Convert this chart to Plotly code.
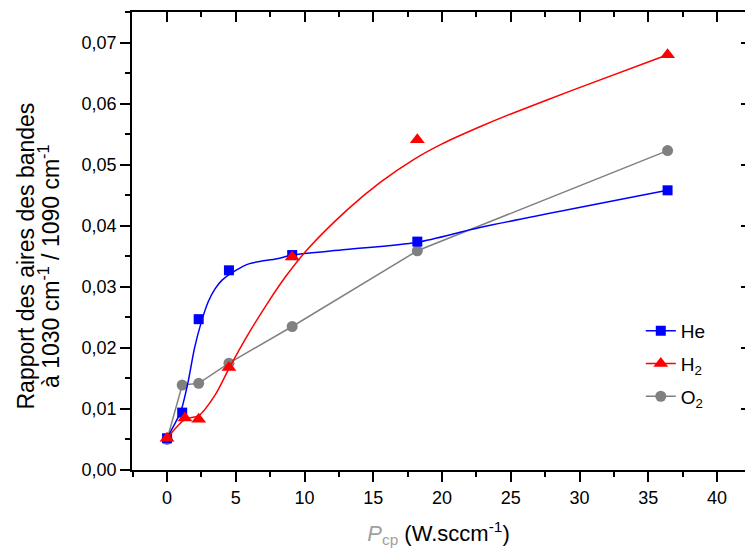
import plotly.graph_objects as go

# ---- data ----
x_he = [0, 1.1, 2.3, 4.5, 9.1, 18.2, 36.4]
y_he = [0.0052, 0.0094, 0.0247, 0.0327, 0.0352, 0.0374, 0.0458]

x_h2 = [0, 1.3, 2.3, 4.5, 9.1, 18.2, 36.4]
y_h2 = [0.0052, 0.0085, 0.0083, 0.0168, 0.0349, 0.0541, 0.0680]

x_o2 = [0, 1.1, 2.3, 4.5, 9.1, 18.2, 36.4]
y_o2 = [0.0050, 0.0139, 0.0142, 0.0175, 0.0235, 0.0359, 0.0523]

# fitted curves as drawn in the reference
fit_he_x = [0, 0.5, 1.0, 1.5, 2.0, 2.5, 3.0, 3.5, 4.0, 5.0, 6.0, 8.0, 9.1, 13.0, 18.2, 22.75, 36.4]
fit_he_y = [0.0052, 0.0073, 0.0096, 0.0141, 0.0200, 0.0243, 0.0276, 0.0297, 0.0311, 0.0327, 0.0338,
            0.0346, 0.0352, 0.0361, 0.0373, 0.0397, 0.0458]

fit_h2_x = [0, 1.3, 2.3, 3.5, 4.5, 6.0, 7.3, 8.6, 10.2, 13.1, 15.5, 17.9, 20.0, 22.75, 25.0, 29.5, 36.4]
fit_h2_y = [0.0052, 0.0083, 0.0089, 0.0123, 0.0166, 0.0226, 0.0273, 0.0316, 0.0361, 0.0426, 0.0471,
            0.0508, 0.0534, 0.0562, 0.0583, 0.0622, 0.0680]

names = ["He", "H<sub>2</sub>", "O<sub>2</sub>"]
colors = ["#0000FF", "#FF0000", "#808080"]
symbols = ["square", "triangle-up", "circle"]
msizes = [10, 13, 11]

x_ticks = [0, 5, 10, 15, 20, 25, 30, 35, 40]
y_ticks = [0.00, 0.01, 0.02, 0.03, 0.04, 0.05, 0.06, 0.07]

FONT = "Liberation Sans, Arial, sans-serif"

fig = go.Figure()

# O2 (straight segments through points), drawn first
fig.add_trace(go.Scatter(x=x_o2, y=y_o2, mode="lines+markers",
                         line=dict(color=colors[2], width=1.5),
                         marker=dict(symbol=symbols[2], size=msizes[2], color=colors[2]),
                         showlegend=False, hoverinfo="skip"))
# He fit + points
fig.add_trace(go.Scatter(x=fit_he_x, y=fit_he_y, mode="lines",
                         line=dict(color=colors[0], width=1.5, shape="spline", smoothing=0.8),
                         showlegend=False, hoverinfo="skip"))
fig.add_trace(go.Scatter(x=x_he, y=y_he, mode="markers",
                         marker=dict(symbol=symbols[0], size=msizes[0], color=colors[0]),
                         showlegend=False))
# H2 fit + points
fig.add_trace(go.Scatter(x=fit_h2_x, y=fit_h2_y, mode="lines",
                         line=dict(color=colors[1], width=1.5, shape="spline", smoothing=0.8),
                         showlegend=False, hoverinfo="skip"))
fig.add_trace(go.Scatter(x=x_h2, y=y_h2, mode="markers",
                         marker=dict(symbol=symbols[1], size=msizes[1], color=colors[1]),
                         showlegend=False))

# legend entries
for i in range(3):
    fig.add_trace(go.Scatter(x=[None], y=[None], mode="lines+markers", name=names[i],
                             legendgroup=str(i),
                             line=dict(color=colors[i], width=1.5),
                             marker=dict(symbol=symbols[i], size=msizes[i], color=colors[i])))

# dummy trace for the mirrored top/right axes
fig.add_trace(go.Scatter(x=[None], y=[None], xaxis="x2", yaxis="y2",
                         showlegend=False, hoverinfo="skip"))

xr = [-2.55, 42.03]
yr = [0, 0.075]

L, T, B = 132, 12, 79
PW, PH = 745 - L, 549 - T - B


def px_x(p):
    return (p - L) / PW


def px_y(p):
    return (549 - B - p) / PH


fig.update_layout(
    width=745, height=549,
    margin=dict(l=L, r=0, t=T, b=B, autoexpand=False),
    paper_bgcolor="white", plot_bgcolor="white",
    font=dict(family=FONT, size=18, color="black"),
    separators=", ",
    xaxis=dict(range=xr, tickmode="array", tickvals=x_ticks, ticktext=[str(v) for v in x_ticks],
               ticks="outside", ticklen=10, tickwidth=1.5, tickcolor="black",
               minor=dict(dtick=2.5, tick0=0, ticks="outside", ticklen=5, tickwidth=1.5, tickcolor="black"),
               showline=True, linecolor="black", linewidth=1.5,
               showgrid=False, zeroline=False, automargin=False,
               tickfont=dict(size=18), ticklabelstandoff=1,
               title=dict(text="<span style='color:#a0a0a0'><i>P</i><sub>cp</sub></span> (W.sccm<sup>-1</sup>)",
                          font=dict(size=22), standoff=18)),
    yaxis=dict(range=yr, tickmode="array", tickvals=y_ticks,
               ticktext=[f"{v:.2f}".replace(".", ",") for v in y_ticks],
               ticks="outside", ticklen=10, tickwidth=1.5, tickcolor="black",
               minor=dict(dtick=0.005, tick0=0, ticks="outside", ticklen=5, tickwidth=1.5, tickcolor="black"),
               showline=True, linecolor="black", linewidth=1.5,
               showgrid=False, zeroline=False, automargin=False,
               tickfont=dict(size=18)),
    xaxis2=dict(range=xr, overlaying="x", side="top", tickmode="array", tickvals=x_ticks,
                showticklabels=False, ticks="inside", ticklen=10, tickwidth=1.5, tickcolor="black",
                minor=dict(dtick=2.5, tick0=0, ticks="inside", ticklen=5, tickwidth=1.5, tickcolor="black"),
                showline=True, linecolor="black", linewidth=1.5,
                showgrid=False, zeroline=False),
    yaxis2=dict(range=yr, overlaying="y", side="right", tickmode="array", tickvals=y_ticks,
                showticklabels=False, ticks="inside", ticklen=4, tickwidth=1.5, tickcolor="black",
                showline=False, showgrid=False, zeroline=False),
    legend=dict(x=0.83, y=px_y(312), xanchor="left", yanchor="top",
                bgcolor="rgba(0,0,0,0)", font=dict(size=19),
                traceorder="grouped", tracegroupgap=5, itemwidth=30),
    annotations=[
        dict(text="Rapport des aires des bandes",
             textangle=-90, xref="paper", yref="paper",
             x=px_x(25), y=px_y(256.5),
             xanchor="center", yanchor="middle", showarrow=False,
             font=dict(size=23, family=FONT)),
        dict(text="à 1030 cm<sup>-1</sup> / 1090 cm<sup>-1</sup>",
             textangle=-90, xref="paper", yref="paper",
             x=px_x(49), y=px_y(266),
             xanchor="center", yanchor="middle", showarrow=False,
             font=dict(size=23, family=FONT)),
    ],
    showlegend=True,
)

fig.write_html("out.html", post_script="document.body.style.margin='0';",
               config={"displayModeBar": False})
